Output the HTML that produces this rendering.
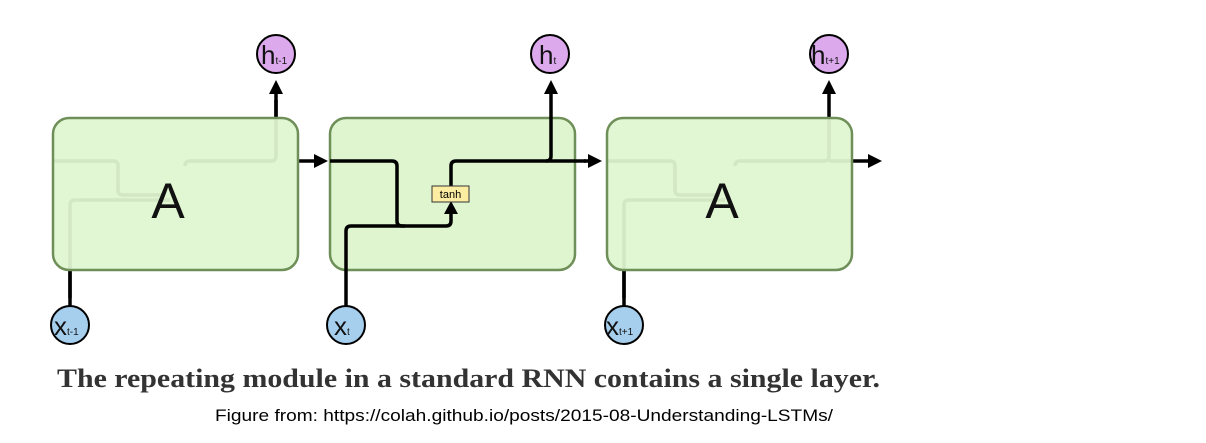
<!DOCTYPE html>
<html><head><meta charset="utf-8"><style>
body{margin:0;background:#fff;width:1206px;height:443px;overflow:hidden}
</style></head><body>
<svg width="1206" height="443" xmlns="http://www.w3.org/2000/svg" style="position:absolute;left:0;top:0">
<defs>
<marker id="ar" markerWidth="16" markerHeight="14" refX="2" refY="7" orient="auto" markerUnits="userSpaceOnUse">
<path d="M0,0 L14,7 L0,14 Z" fill="#000"/></marker>
</defs>
<g fill="none" stroke="#000" stroke-width="3.5">
<path d="M52,161 H113 q5,0 5,5 V190 q0,5 5,5 H165 M70,298 V205 q0,-5 5,-5 H170 M185,166 q0,-5 5,-5 H271 q5,0 5,-5 V100"/>
<path d="M276,118 V92" marker-end="url(#ar)"/>
<path d="M70,270 V306"/>
<path d="M298,161 H316" marker-end="url(#ar)"/>
<path d="M607,161 H670 q5,0 5,5 V190 q0,5 5,5 H720 M624,298 V205 q0,-5 5,-5 H725 M735,166 q0,-5 5,-5 H824 q5,0 5,-5 V118 M829,161 H852"/>
<path d="M829,118 V92" marker-end="url(#ar)"/>
<path d="M624,270 V306"/>
<path d="M852,161 H870" marker-end="url(#ar)"/>
</g>
<rect x="53" y="118" width="245" height="152" rx="16" fill="#dff5cf" fill-opacity="0.94" stroke="#6f8f59" stroke-width="2.5"/>
<rect x="607" y="118" width="245" height="152" rx="16" fill="#dff5cf" fill-opacity="0.94" stroke="#6f8f59" stroke-width="2.5"/>
<rect x="330" y="118" width="245" height="152" rx="16" fill="#dff5cf" stroke="#6f8f59" stroke-width="2.5"/>
<g fill="none" stroke="#000" stroke-width="3.5">
<path d="M330,161 H392 q5,0 5,5 V221 q0,5 5,5 H446 q5,0 5,-5 V214"/>
<path d="M346,306 V231 q0,-5 5,-5 H405"/>
<path d="M451,186 V166 q0,-5 5,-5 H586"/>
<path d="M584,161 H590" marker-end="url(#ar)"/>
<path d="M546,161 q5,0 5,-5 V92" marker-end="url(#ar)"/>
</g>
<path d="M451,201 l-7,13 h14 z" fill="#000"/>
<rect x="432" y="186" width="37" height="16" fill="#fbeea2" stroke="#333" stroke-width="1"/>
<text x="450.5" y="198" font-family="Liberation Sans, sans-serif" font-size="11" text-anchor="middle">tanh</text>
<g font-family="Liberation Sans, sans-serif" font-size="50" fill="#111" text-anchor="middle">
<text x="168" y="218">A</text><text x="722" y="218">A</text></g>
<g stroke="#000" stroke-width="2">
<circle cx="276" cy="54" r="19" fill="#dca9ec"/><circle cx="550" cy="54" r="19" fill="#dca9ec"/><circle cx="829" cy="54" r="19" fill="#dca9ec"/>
<circle cx="70" cy="325" r="19" fill="#a6cfee"/><circle cx="346" cy="325" r="19" fill="#a6cfee"/><circle cx="624" cy="325" r="19" fill="#a6cfee"/>
</g>
<g font-family="Liberation Sans, sans-serif" fill="#111">
<text x="261" y="64" font-size="26">h<tspan font-size="10">t-1</tspan></text>
<text x="539" y="64" font-size="26">h<tspan font-size="10">t</tspan></text>
<text x="811" y="64" font-size="26">h<tspan font-size="10">t+1</tspan></text>
<text x="54" y="335" font-size="26">x<tspan font-size="10">t-1</tspan></text>
<text x="334" y="335" font-size="26">x<tspan font-size="10">t</tspan></text>
<text x="606" y="335" font-size="26">x<tspan font-size="10">t+1</tspan></text>
</g>
<text x="57" y="387" font-family="Liberation Serif, serif" font-size="26" font-weight="bold" fill="#333" textLength="823" lengthAdjust="spacingAndGlyphs">The repeating module in a standard RNN contains a single layer.</text>
<text x="215" y="421" font-family="Liberation Sans, sans-serif" font-size="17" fill="#000" textLength="618" lengthAdjust="spacingAndGlyphs">Figure from: https://colah.github.io/posts/2015-08-Understanding-LSTMs/</text>
</svg>
</body></html>
